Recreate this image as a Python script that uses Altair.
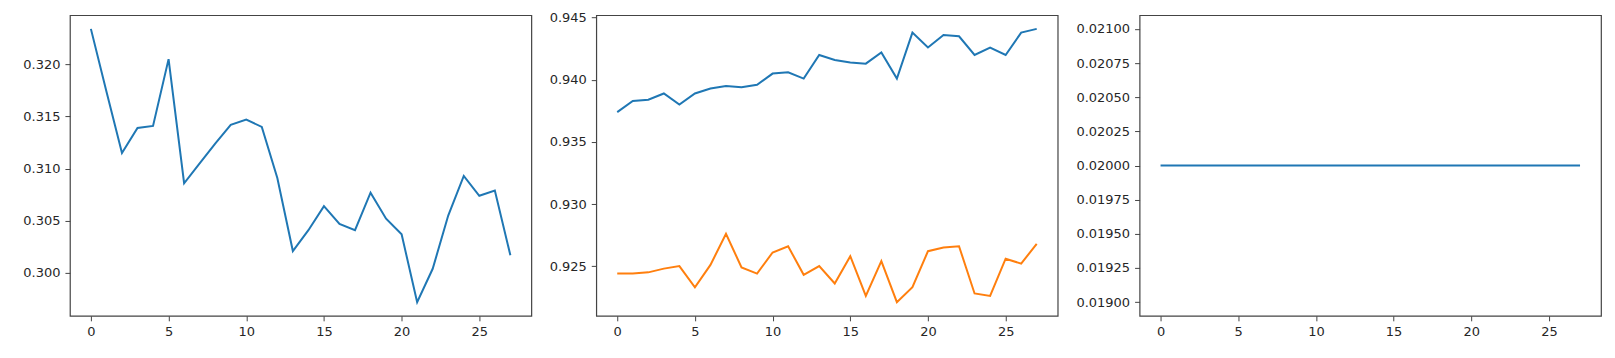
import altair as alt
import pandas as pd

steps = list(range(28))

loss = [0.3234, 0.3174, 0.3115, 0.3139, 0.3141, 0.3205, 0.3086, 0.3105, 0.3124, 0.3142,
        0.3147, 0.3140, 0.3091, 0.3021, 0.3041, 0.3064, 0.3047, 0.3041, 0.3077, 0.3052,
        0.3037, 0.2972, 0.3004, 0.3055, 0.3093, 0.3074, 0.3079, 0.3017]

acc_train = [0.9374, 0.9383, 0.9384, 0.9389, 0.9380, 0.9389, 0.9393, 0.9395, 0.9394, 0.9396,
             0.9405, 0.9406, 0.9401, 0.9420, 0.9416, 0.9414, 0.9413, 0.9422, 0.9401, 0.9438,
             0.9426, 0.9436, 0.9435, 0.9420, 0.9426, 0.9420, 0.9438, 0.9441]

acc_val = [0.9244, 0.9244, 0.9245, 0.9248, 0.9250, 0.9233, 0.9251, 0.9276, 0.9249, 0.9244,
           0.9261, 0.9266, 0.9243, 0.9250, 0.9236, 0.9258, 0.9226, 0.9254, 0.9221, 0.9233,
           0.9262, 0.9265, 0.9266, 0.9228, 0.9226, 0.9256, 0.9252, 0.9268]

lr = [0.02] * 28

x_ticks = [0, 5, 10, 15, 20, 25]
y1_ticks = [0.300, 0.305, 0.310, 0.315, 0.320]
y2_ticks = [0.925, 0.930, 0.935, 0.940, 0.945]
y3_ticks = [0.019, 0.01925, 0.0195, 0.01975, 0.02, 0.02025, 0.0205, 0.02075, 0.021]

W, H = 462, 301
FONT = "DejaVu Sans"

def rng(vals):
    lo, hi = min(vals), max(vals)
    m = (hi - lo) * 0.05
    return [lo - m, hi + m]

x_enc = alt.X("step:Q",
              scale=alt.Scale(domain=[-1.35, 28.35], nice=False, zero=False),
              axis=alt.Axis(values=x_ticks, title=None, grid=False, domain=False,
                            format="d", labelFlush=False))

def y_axis(ticks, fmt):
    return alt.Axis(values=ticks, title=None, grid=False, domain=False, format=fmt,
                    labelFlush=False, labelOverlap=False)

df1 = pd.DataFrame({"step": steps, "value": loss})
p1 = alt.Chart(df1).mark_line(color="#1f77b4", strokeWidth=2).encode(
    x=x_enc,
    y=alt.Y("value:Q", scale=alt.Scale(domain=rng(loss), nice=False, zero=False),
            axis=y_axis(y1_ticks, ".3f")),
).properties(width=W, height=H)

df2 = pd.DataFrame({
    "step": steps + steps,
    "value": acc_train + acc_val,
    "series": ["train"] * 28 + ["val"] * 28,
})
p2 = alt.Chart(df2).mark_line(strokeWidth=2).encode(
    x=x_enc,
    y=alt.Y("value:Q", scale=alt.Scale(domain=rng(acc_train + acc_val), nice=False, zero=False),
            axis=y_axis(y2_ticks, ".3f")),
    color=alt.Color("series:N", scale=alt.Scale(domain=["train", "val"],
                                                range=["#1f77b4", "#ff7f0e"]), legend=None),
).properties(width=W, height=H)

df3 = pd.DataFrame({"step": steps, "value": lr})
p3 = alt.Chart(df3).mark_line(color="#1f77b4", strokeWidth=2).encode(
    x=x_enc,
    y=alt.Y("value:Q", scale=alt.Scale(domain=[0.0189, 0.0211], nice=False, zero=False),
            axis=y_axis(y3_ticks, ".5f")),
).properties(width=W, height=H)

chart = alt.hconcat(p1, p2, p3, spacing=16).properties(
    padding={"left": 14, "top": 2, "right": 5, "bottom": 5},
    background="white",
).resolve_scale(y="independent", color="independent").configure_view(
    stroke="#444", strokeWidth=1.2
).configure_axis(
    labelFont=FONT, labelFontSize=13, labelColor="#262626",
    tickColor="#444", tickSize=5, tickWidth=1, labelPadding=5
)

chart.save("out.html", embed_options={"renderer": "svg", "actions": False})
